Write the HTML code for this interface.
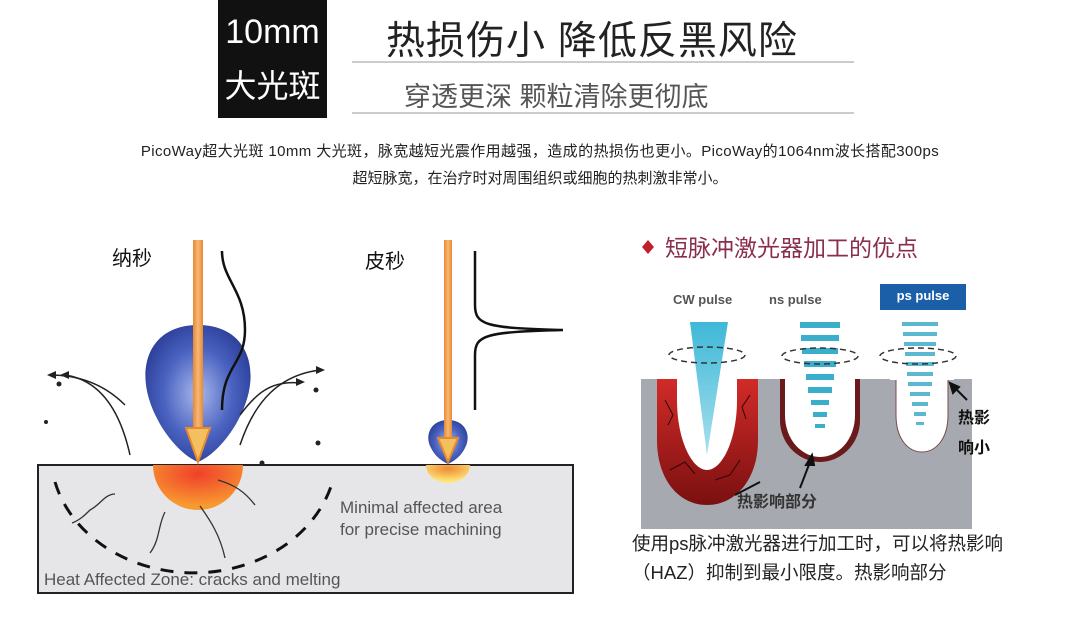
<!DOCTYPE html>
<html><head><meta charset="utf-8"><style>
body{margin:0;width:1080px;height:619px;background:#fff;overflow:hidden;position:relative;font-family:"Liberation Sans","Noto Sans CJK SC",sans-serif}
.a{position:absolute;white-space:nowrap}
</style></head><body>
<div class="a" style="left:218px;top:0;width:109px;height:118px;background:#111"></div>
<div class="a" style="left:218px;top:12px;width:109px;text-align:center;color:#fff;font-size:34px;line-height:40px">10mm</div>
<div class="a" style="left:218px;top:66px;width:109px;text-align:center;color:#fff;font-size:32px;line-height:40px">大光斑</div>
<div class="a" style="left:352px;top:61px;width:502px;height:2px;background:#ccc"></div>
<div class="a" style="left:352px;top:112px;width:502px;height:2px;background:#ccc"></div>
<div class="a" style="left:386px;top:10px;font-size:39px;color:#222;letter-spacing:1px">热损伤小 降低反黑风险</div>
<div class="a" style="left:404px;top:75px;font-size:27px;color:#555">穿透更深 颗粒清除更彻底</div>
<div class="a" style="left:0;width:1080px;text-align:center;top:140px;font-size:15px;color:#222;letter-spacing:0.4px">PicoWay超大光斑 10mm 大光斑，脉宽越短光震作用越强，造成的热损伤也更小。PicoWay的1064nm波长搭配300ps</div>
<div class="a" style="left:0;width:1080px;text-align:center;top:167px;font-size:15px;color:#222">超短脉宽，在治疗时对周围组织或细胞的热刺激非常小。</div>

<svg class="a" style="left:0;top:0" width="1080" height="619">
<defs>
<radialGradient id="bl" cx="50%" cy="50%" r="55%"><stop offset="0" stop-color="#a8b8ec"/><stop offset="0.6" stop-color="#4a62c0"/><stop offset="1" stop-color="#2c3f9a"/></radialGradient>
<radialGradient id="or" cx="50%" cy="20%" r="70%"><stop offset="0" stop-color="#f0402a"/><stop offset="1" stop-color="#f89a30"/></radialGradient>
<radialGradient id="ye" cx="50%" cy="20%" r="70%"><stop offset="0" stop-color="#f08a30"/><stop offset="1" stop-color="#fde77a"/></radialGradient>
<linearGradient id="beam" x1="0" x2="1"><stop offset="0" stop-color="#e8892e"/><stop offset="0.5" stop-color="#f6b87a"/><stop offset="1" stop-color="#e8892e"/></linearGradient>
<linearGradient id="red" x1="0" y1="0" x2="0" y2="1"><stop offset="0" stop-color="#d22b28"/><stop offset="1" stop-color="#7a1010"/></linearGradient>
<linearGradient id="cy" x1="0" y1="0" x2="0" y2="1"><stop offset="0" stop-color="#3eb8d8"/><stop offset="1" stop-color="#a8e0ee"/></linearGradient>
</defs>
<rect x="38" y="465" width="535" height="128" fill="#e6e6e8" stroke="#222" stroke-width="2"/>
<path d="M55 482 A143 120 0 0 0 333 480" fill="none" stroke="#111" stroke-width="3" stroke-dasharray="13 11"/>
<path d="M198 325 C245 325 260 365 245 405 C235 432 215 455 198 462 C181 455 161 432 151 405 C136 365 151 325 198 325Z" fill="url(#bl)"/>
<path d="M153 465 A45 45 0 0 0 243 465Z" fill="url(#or)"/>
<g fill="none" stroke="#333" stroke-width="1.3">
<path d="M115 494 C105 494 100 505 90 510 C85 515 80 520 72 523"/>
<path d="M165 512 C158 525 160 540 150 553"/>
<path d="M200 506 C210 520 220 535 225 558"/>
<path d="M218 480 C235 485 245 492 255 505"/>
</g>
<g fill="none" stroke="#222" stroke-width="1.5">
<path d="M130 455 C120 410 100 380 65 375"/><path d="M125 405 C105 385 80 375 50 375"/>
<path d="M240 445 C255 400 280 375 320 370"/><path d="M240 415 C255 395 270 380 300 383"/>
</g>
<g fill="#222"><path d="M60 375 l9 -4 v8z"/><path d="M47 375 l9 -4 v8z"/><path d="M325 370 l-9 -4 v8z"/><path d="M305 382 l-9 -4 v8z"/>
<circle cx="59" cy="384" r="2.5"/><circle cx="46" cy="422" r="2"/><circle cx="316" cy="390" r="2.5"/><circle cx="318" cy="443" r="2.5"/><circle cx="262" cy="463" r="2.5"/></g>
<path d="M222 251 C222 280 245 290 245 330 C245 365 222 365 222 410" fill="none" stroke="#111" stroke-width="2.5"/>
<rect x="193" y="240" width="10" height="190" fill="url(#beam)"/>
<path d="M186 428 L210 428 L198 462Z" fill="#f3c060" stroke="#e8892e" stroke-width="2"/>
<path d="M448 420 C465 420 472 435 465 448 C460 458 452 462 448 464 C444 462 436 458 431 448 C424 435 431 420 448 420Z" fill="url(#bl)"/>
<path d="M426 465 A22 18 0 0 0 470 465Z" fill="url(#ye)"/>
<rect x="444" y="240" width="8" height="200" fill="url(#beam)"/>
<path d="M438 438 L458 438 L448 462Z" fill="#f3c060" stroke="#e8892e" stroke-width="2"/>
<path d="M475 251 V305 C475 325 485 328 563 330 M475 410 V355 C475 335 485 332 563 330" fill="none" stroke="#111" stroke-width="2.5"/>

<rect x="641" y="379" width="331" height="150" fill="#a7a9b0"/>
<path d="M657 379 L758 379 L758 440 C758 480 735 505 707 505 C679 505 657 480 657 440Z" fill="url(#red)"/>
<path d="M677 370 L737 370 L737 400 C737 440 722 470 707 470 C692 470 677 440 677 400Z" fill="#fff"/>
<path d="M690 322 L728 322 L707 455Z" fill="url(#cy)"/>
<g fill="none" stroke="#2a0808" stroke-width="1"><path d="M665 400 l8 15 -5 10 M750 395 l-8 12 4 12 M670 470 l15 -8 10 12 M740 460 l-10 15 -15 5"/></g>
<path d="M780 379 L860 379 L860 420 C860 445 840 462 820 462 C800 462 780 445 780 420Z" fill="#6a1a1a"/>
<path d="M785 372 L855 372 L855 415 C855 440 838 457 820 457 C802 457 785 440 785 415Z" fill="#fff"/>
<g fill="#3aaecb"><rect x="800" y="322" width="40" height="6"/><rect x="801" y="335" width="38" height="6"/><rect x="802" y="348" width="36" height="6"/><rect x="804" y="361" width="32" height="6"/><rect x="806" y="374" width="28" height="6"/><rect x="808" y="387" width="24" height="6"/><rect x="811" y="400" width="18" height="5"/><rect x="813" y="412" width="14" height="5"/><rect x="815" y="424" width="10" height="4"/></g>
<path d="M896 379 L948 379 L948 415 C948 440 935 452 922 452 C909 452 896 440 896 415Z" fill="#fff" stroke="#7a4a4a" stroke-width="1"/>
<rect x="890" y="370" width="64" height="10" fill="#fff"/>
<g fill="#5ab8d0"><rect x="902" y="322" width="36" height="4"/><rect x="903" y="332" width="34" height="4"/><rect x="904" y="342" width="32" height="4"/><rect x="905" y="352" width="30" height="4"/><rect x="906" y="362" width="28" height="4"/><rect x="907" y="372" width="26" height="4"/><rect x="908" y="382" width="24" height="4"/><rect x="910" y="392" width="20" height="4"/><rect x="912" y="402" width="16" height="4"/><rect x="914" y="412" width="12" height="4"/><rect x="916" y="422" width="8" height="3"/></g>
<g fill="none" stroke="#333" stroke-width="1.5" stroke-dasharray="6 4"><ellipse cx="707" cy="355" rx="38" ry="8"/><ellipse cx="820" cy="356" rx="38" ry="8"/><ellipse cx="918" cy="356" rx="38" ry="8"/></g>
<g stroke="#111" stroke-width="2" fill="#111"><line x1="760" y1="482" x2="735" y2="495"/><line x1="800" y1="488" x2="810" y2="462"/><path d="M812 455 l-6 10 h8z"/><line x1="967" y1="400" x2="953" y2="386"/><path d="M950 383 l3 10 6-6z"/></g>
<path d="M648 240 l6 7 -6 7 -6 -7z" fill="#c0202a"/>
<rect x="880" y="284" width="86" height="26" fill="#1a5fa8"/>
</svg>
<div class="a" style="left:112px;top:242px;font-size:20px;color:#111">纳秒</div>
<div class="a" style="left:365px;top:245px;font-size:20px;color:#111">皮秒</div>
<div class="a" style="left:340px;top:497px;font-size:17px;color:#555;line-height:22px">Minimal affected area<br>for precise machining</div>
<div class="a" style="left:44px;top:570px;font-size:17px;color:#555">Heat Affected Zone: cracks and melting</div>
<div class="a" style="left:665px;top:229px;font-size:23px;color:#8a2e4e">短脉冲激光器加工的优点</div>
<div class="a" style="left:673px;top:292px;font-size:13px;color:#555;font-weight:bold">CW pulse</div>
<div class="a" style="left:769px;top:292px;font-size:13px;color:#555;font-weight:bold">ns pulse</div>
<div class="a" style="left:880px;top:288px;width:86px;text-align:center;font-size:13px;color:#fff;font-weight:bold">ps pulse</div>
<div class="a" style="left:737px;top:488px;font-size:16px;color:#333;font-weight:bold">热影响部分</div>
<div class="a" style="left:958px;top:404px;font-size:16px;color:#111;font-weight:bold;line-height:30px">热影<br>响小</div>
<div class="a" style="left:632px;top:529px;font-size:18.5px;color:#222;line-height:29px">使用ps脉冲激光器进行加工时，可以将热影响<br>（HAZ）抑制到最小限度。热影响部分</div>
</body></html>
